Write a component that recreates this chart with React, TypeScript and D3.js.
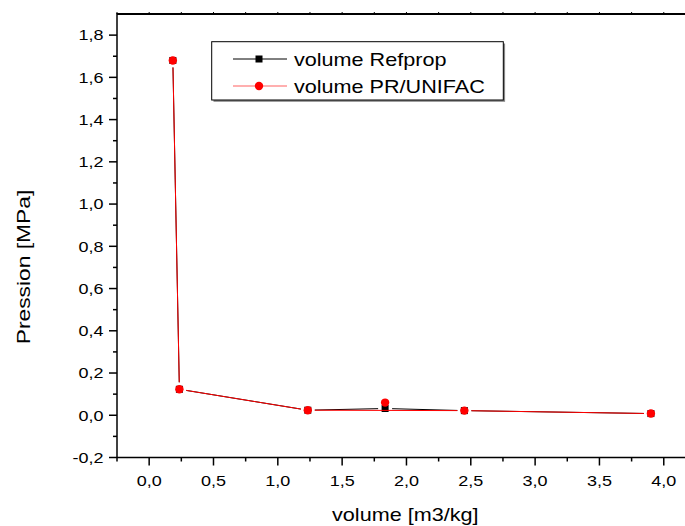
import * as d3 from "d3";
import React from "react";

// values
const volume = [0.184, 0.235, 1.233, 1.834, 2.45, 3.9];
const refprop = [1.68, 0.123, 0.024, 0.032, 0.022, 0.008];
const unifac = [1.68, 0.123, 0.024, 0.06, 0.022, 0.008];
const xTicks = [0, 0.5, 1, 1.5, 2, 2.5, 3, 3.5, 4];
const yTicks = [-0.2, 0, 0.2, 0.4, 0.6, 0.8, 1, 1.2, 1.4, 1.6, 1.8];
const legendLabels = ["volume Refprop", "volume PR/UNIFAC"];

const W = 685;
const H = 526;
const left = 117;
const top = 14;
const bottom = 457.5;
const right = 689.5;
const FONT = "'Liberation Sans', Arial, sans-serif";
const STRETCH = 1.2;
const GAP = 7;

const fmt = (v: number) => d3.format(".1f")(v).replace(".", ",").replace("−", "-");

const Txt = ({x, y, size, anchor = "start", rotate = 0, children}: any) => (
	<text
		transform={`translate(${x},${y}) rotate(${rotate}) scale(${STRETCH},1)`}
		fontSize={size}
		fontFamily={FONT}
		textAnchor={anchor}
		fill="#000"
	>
		{children}
	</text>
);

export default function App() {
	const x = d3.scaleLinear().domain([-0.25, 4.2]).range([left, right]);
	const y = d3.scaleLinear().domain([-0.2, 1.9]).range([bottom, top]);

	const xMinor = d3.range(-0.25, 4.2, 0.25).filter((v) => Math.abs(v * 2 - Math.round(v * 2)) > 1e-6);
	const yMinor = d3.range(-0.1, 1.9, 0.2);

	const pts = (vals: number[]) => volume.map((v, i) => [x(v), y(vals[i])] as [number, number]);

	// Origin leaves a small gap between line and symbol
	const segments = (p: [number, number][]) => {
		const out: string[] = [];
		for (let i = 0; i < p.length - 1; i++) {
			const [x0, y0] = p[i];
			const [x1, y1] = p[i + 1];
			const len = Math.hypot(x1 - x0, y1 - y0);
			if (len <= 2 * GAP) continue;
			const ux = (x1 - x0) / len;
			const uy = (y1 - y0) / len;
			out.push(
				d3.line()([
					[x0 + ux * GAP, y0 + uy * GAP],
					[x1 - ux * GAP, y1 - uy * GAP],
				]) as string
			);
		}
		return out;
	};

	const blackPts = pts(refprop);
	const redPts = pts(unifac);
	// the red curve in the reference runs under the lone point at 1.83
	const redLinePts = redPts.filter((_, i) => volume[i] !== 1.834);

	return (
		<svg width={W} height={H} style={{position: "absolute", left: 0, top: 0, background: "#fff"}}>
			{/* frame */}
			<line x1={left} x2={right} y1={top} y2={top} stroke="#000" strokeWidth={2} />
			<line x1={left} x2={left} y1={top - 1} y2={bottom} stroke="#000" strokeWidth={1.5} />
			<line x1={left} x2={right} y1={bottom} y2={bottom} stroke="#000" strokeWidth={1.5} />
			{xMinor.map((v) => (
				<line key={"tm" + v} x1={x(v)} x2={x(v)} y1={top} y2={top - 2} stroke="#000" strokeWidth={1} />
			))}
			{xTicks.map((v) => (
				<line key={"tt" + v} x1={x(v)} x2={x(v)} y1={top} y2={top - 2} stroke="#000" strokeWidth={1} />
			))}

			{/* x axis */}
			{xTicks.map((v) => (
				<g key={"x" + v}>
					<line x1={x(v)} x2={x(v)} y1={bottom} y2={bottom + 8} stroke="#000" strokeWidth={1.5} />
					<Txt x={x(v)} y={486} size={15} anchor="middle">
						{fmt(v)}
					</Txt>
				</g>
			))}
			{xMinor.map((v) => (
				<line key={"xm" + v} x1={x(v)} x2={x(v)} y1={bottom} y2={bottom + 4} stroke="#000" strokeWidth={1.5} />
			))}

			{/* y axis */}
			{yTicks.map((v) => (
				<g key={"y" + v}>
					<line x1={left} x2={left - 8} y1={y(v)} y2={y(v)} stroke="#000" strokeWidth={1.5} />
					<Txt x={103.5} y={y(v) + 5.3} size={15} anchor="end">
						{fmt(v)}
					</Txt>
				</g>
			))}
			{yMinor.map((v) => (
				<line key={"ym" + v} x1={left} x2={left - 4} y1={y(v)} y2={y(v)} stroke="#000" strokeWidth={1.5} />
			))}

			<Txt x={(left + right) / 2 + 2} y={521} size={18} anchor="middle">
				volume [m3/kg]
			</Txt>
			<Txt x={30} y={267} size={19} anchor="middle" rotate={-90}>
				Pression [MPa]
			</Txt>

			{/* series */}
			{segments(blackPts).map((d, i) => (
				<path key={"bl" + i} d={d} fill="none" stroke="#000" strokeWidth={1} />
			))}
			{blackPts.map(([px, py], i) => (
				<rect key={"bs" + i} x={px - 3.5} y={py - 3.5} width={7} height={7} fill="#000" />
			))}
			{segments(redLinePts).map((d, i) => (
				<path key={"rl" + i} d={d} fill="none" stroke="#ff0000" strokeWidth={1} />
			))}
			{redPts.map(([px, py], i) => (
				<circle key={"rc" + i} cx={px} cy={py} r={4.2} fill="#ff0000" />
			))}

			{/* legend */}
			<rect x={213.5} y={43.5} width={291.6} height={58.3} fill="#888" />
			<rect x={211.7} y={41.7} width={291.6} height={58.3} fill="#fff" stroke="#000" strokeWidth={1} />
			<line x1={233} x2={287} y1={59} y2={59} stroke="#000" strokeWidth={1} />
			<rect x={255.5} y={55.5} width={7} height={7} fill="#000" />
			<line x1={233} x2={287} y1={86} y2={86} stroke="#ff6060" strokeWidth={1.2} />
			<circle cx={259} cy={86} r={4.2} fill="#ff0000" />
			<Txt x={294} y={65.5} size={18}>
				{legendLabels[0]}
			</Txt>
			<Txt x={294} y={92.5} size={18}>
				{legendLabels[1]}
			</Txt>
		</svg>
	);
}
